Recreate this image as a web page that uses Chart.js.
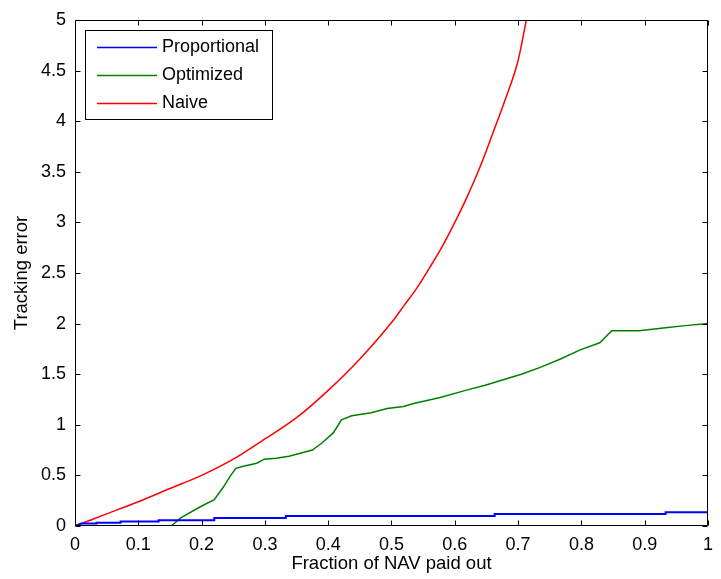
<!DOCTYPE html>
<html>
<head>
<meta charset="utf-8">
<script src="https://cdn.jsdelivr.net/npm/chart.js@4/dist/chart.umd.min.js"></script>
<style>
  html, body { margin: 0; padding: 0; background: #ffffff; }
  #wrap { width: 721px; height: 579px; }
</style>
</head>
<body>
<div id="wrap"><canvas id="c" width="721" height="579"></canvas></div>
<script>
// ---- data ----
const xTickLabels = ['0', '0.1', '0.2', '0.3', '0.4', '0.5', '0.6', '0.7', '0.8', '0.9', '1'];
const yTickLabels = ['0', '0.5', '1', '1.5', '2', '2.5', '3', '3.5', '4', '4.5', '5'];

const seriesNames = ['Proportional', 'Optimized', 'Naive'];

const propX = [0, 0.01, 0.034, 0.034, 0.072, 0.072, 0.132, 0.132, 0.22, 0.22, 0.333, 0.333, 0.663, 0.663, 0.933, 0.933, 1.0];
const propY = [0, 0.025, 0.025, 0.033, 0.033, 0.045, 0.045, 0.058, 0.058, 0.078, 0.078, 0.1, 0.1, 0.118, 0.118, 0.135, 0.135];

const optX = [0.152, 0.167, 0.198, 0.22, 0.235, 0.245, 0.254, 0.266, 0.287, 0.299, 0.318, 0.338, 0.375, 0.39, 0.408, 0.421, 0.437, 0.468, 0.493, 0.519, 0.535, 0.577, 0.617, 0.648, 0.674, 0.705, 0.736, 0.767, 0.798, 0.829, 0.848, 0.891, 0.933, 0.964, 1.0];
const optY = [0, 0.08, 0.19, 0.26, 0.39, 0.49, 0.57, 0.59, 0.62, 0.66, 0.67, 0.69, 0.75, 0.82, 0.92, 1.05, 1.09, 1.12, 1.16, 1.18, 1.21, 1.27, 1.34, 1.39, 1.44, 1.5, 1.57, 1.65, 1.74, 1.81, 1.93, 1.93, 1.96, 1.98, 2.0];

const naiveX = [0, 0.05, 0.1, 0.15, 0.2, 0.25, 0.3, 0.35, 0.4, 0.45, 0.5, 0.52, 0.54, 0.56, 0.58, 0.6, 0.62, 0.64, 0.66, 0.68, 0.7, 0.713];
const naiveY = [0, 0.12, 0.24, 0.37, 0.5, 0.66, 0.86, 1.07, 1.34, 1.65, 2.01, 2.18, 2.35, 2.55, 2.76, 3.0, 3.26, 3.55, 3.88, 4.22, 4.6, 5.0];

const xTickValues = xTickLabels.map(Number);
const yTickValues = yTickLabels.map(Number);

function pts(xs, ys) { return xs.map((x, i) => ({ x: x, y: ys[i] })); }

const FONT = "'Liberation Sans', Arial, sans-serif";

// MATLAB-style frame with inward ticks on all four sides, plus boxed legend
const matlabFrame = {
  id: 'matlabFrame',
  afterDatasetsDraw(chart) {
    const ctx = chart.ctx;
    const a = chart.chartArea;
    const xs = chart.scales.x, ys = chart.scales.y;
    const L = Math.round(a.left) + 0.5, R = Math.round(a.right) - 0.5;
    const T = Math.round(a.top) + 0.5, B = Math.round(a.bottom) - 0.5;
    const tl = 5;
    ctx.save();
    ctx.strokeStyle = '#000000';
    ctx.lineWidth = 1;
    ctx.beginPath();
    ctx.rect(L, T, R - L, B - T);
    xTickValues.forEach(v => {
      const px = Math.round(xs.getPixelForValue(v)) + 0.5;
      ctx.moveTo(px, B); ctx.lineTo(px, B - tl);
      ctx.moveTo(px, T); ctx.lineTo(px, T + tl);
    });
    yTickValues.forEach(v => {
      const py = Math.round(ys.getPixelForValue(v)) + 0.5;
      ctx.moveTo(L, py); ctx.lineTo(L + tl, py);
      ctx.moveTo(R, py); ctx.lineTo(R - tl, py);
    });
    ctx.stroke();

    // legend box
    const ds = chart.data.datasets;
    ctx.font = '18px ' + FONT;
    const boxL = 85.5, boxT = 30.5, rowH = 28, firstRow = 46.5;
    const lineX0 = 97, lineX1 = 157, textX = 162;
    let maxW = 0;
    ds.forEach(d => { maxW = Math.max(maxW, ctx.measureText(d.label).width); });
    const boxR = Math.round(textX + maxW + 13) + 0.5;
    const boxB = Math.round(firstRow + rowH * (ds.length - 1) + 16) + 0.5;
    ctx.fillStyle = '#ffffff';
    ctx.fillRect(boxL, boxT, boxR - boxL, boxB - boxT);
    ctx.strokeStyle = '#000000';
    ctx.strokeRect(boxL, boxT, boxR - boxL, boxB - boxT);
    ds.forEach((d, i) => {
      const y = firstRow + i * rowH;
      ctx.strokeStyle = d.borderColor;
      ctx.lineWidth = 1.5;
      ctx.beginPath();
      ctx.moveTo(lineX0, Math.round(y) + 0.5);
      ctx.lineTo(lineX1, Math.round(y) + 0.5);
      ctx.stroke();
      ctx.fillStyle = '#000000';
      ctx.textBaseline = 'middle';
      ctx.textAlign = 'left';
      ctx.fillText(d.label, textX, y + 1);
    });
    ctx.restore();
  }
};

new Chart(document.getElementById('c'), {
  type: 'line',
  data: {
    datasets: [
      { label: seriesNames[0], data: pts(propX, propY), borderColor: '#0000ff', borderWidth: 2, pointRadius: 0, tension: 0 },
      { label: seriesNames[1], data: pts(optX, optY), borderColor: '#008000', borderWidth: 1.5, pointRadius: 0, tension: 0 },
      { label: seriesNames[2], data: pts(naiveX, naiveY), borderColor: '#ff0000', borderWidth: 1.5, pointRadius: 0, cubicInterpolationMode: 'monotone' }
    ]
  },
  options: {
    responsive: false,
    animation: false,
    layout: { padding: { top: 20, right: 1, left: 0, bottom: 0 } },
    plugins: { legend: { display: false }, tooltip: { enabled: false } },
    scales: {
      x: {
        type: 'linear', min: 0, max: 1,
        afterBuildTicks: s => { s.ticks = xTickValues.map(v => ({ value: v })); },
        afterFit: s => { s.height = 53; },
        grid: { display: false, drawTicks: false },
        border: { display: false },
        ticks: {
          color: '#000000', padding: 8, maxRotation: 0, autoSkip: false,
          font: { family: FONT, size: 18 },
          callback: (v, i) => xTickLabels[i]
        },
        title: { display: true, text: 'Fraction of NAV paid out', color: '#000000',
                 font: { family: FONT, size: 18.5 }, padding: { top: 0, bottom: 4 } }
      },
      y: {
        type: 'linear', min: 0, max: 5,
        afterBuildTicks: s => { s.ticks = yTickValues.map(v => ({ value: v })); },
        afterFit: s => { s.width = 75; },
        grid: { display: false, drawTicks: false },
        border: { display: false },
        ticks: {
          color: '#000000', padding: 9, autoSkip: false,
          font: { family: FONT, size: 18 },
          callback: (v, i) => yTickLabels[i]
        },
        title: { display: true, text: 'Tracking error', color: '#000000',
                 font: { family: FONT, size: 18.5 }, padding: { top: 11, bottom: 0 } }
      }
    }
  },
  plugins: [matlabFrame]
});
</script>
</body>
</html>
